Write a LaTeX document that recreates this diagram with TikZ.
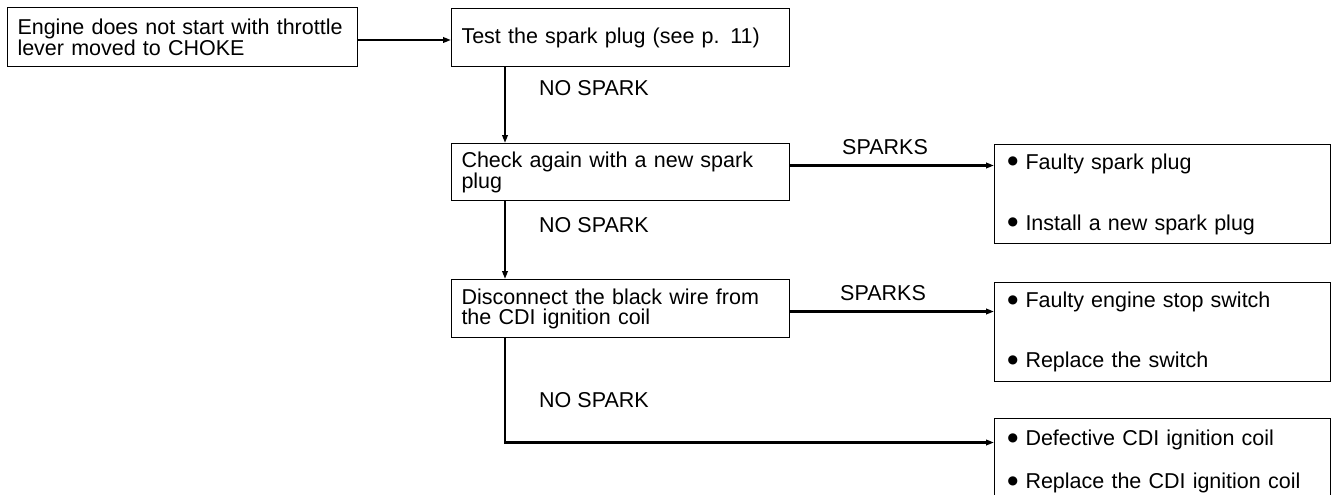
\documentclass[tikz,border=0pt]{standalone}
\usepackage{fontspec}
\setmainfont{Liberation Sans}
\newfontfamily\djv{DejaVu Sans}
\usetikzlibrary{arrows.meta}
\newcommand\fsz{\fontsize{21.5}{20}\selectfont}
\newcommand\bul{\makebox[18pt][l]{\raisebox{4.5pt}{\djv\fontsize{12}{20}\selectfont ●}}}
\tikzset{
  box/.style={draw, line width=1pt, anchor=north west, align=left,
    inner xsep=10pt, inner ysep=0pt, font=\fsz},
  rbox/.style={box, inner xsep=13pt},
  lbl/.style={anchor=west, inner sep=0pt, font=\fsz},
  conn/.style={line width=2.3pt, -{Triangle[length=8pt,width=5.5pt]}}
}
\begin{document}
\begin{tikzpicture}[x=1pt,y=-1pt]
\useasboundingbox (0,0) rectangle (1333,495);
\clip (0,0) rectangle (1333,495);
\node[box, text width=330pt, minimum height=59pt] (b1) at (7,7)
  {Engine does not start with throttle\\lever moved to CHOKE};
\node[box, text width=318pt, minimum height=58pt] (b2) at (451,8)
  {Test the spark plug (see p. 11)};
\node[box, text width=318pt, minimum height=57pt] (b3) at (451,143)
  {Check again with a new spark\\plug};
\node[box, text width=318pt, minimum height=58pt] (b4) at (451,279)
  {Disconnect the black wire from\\the CDI ignition coil};
\node[rbox, text width=310pt, minimum height=99pt] (r1) at (994,144)
  {\bul Faulty spark plug\\[40pt]\bul Install a new spark plug};
\node[rbox, text width=310pt, minimum height=99pt] (r2) at (994,282)
  {\bul Faulty engine stop switch\\[39pt]\bul Replace the switch};
\node[rbox, text width=310pt, minimum height=86pt] (r3) at (994,418)
  {\bul Defective CDI ignition coil\\[22pt]\bul Replace the CDI ignition coil};
\coordinate (v) at (505,0);
% labels
\node[lbl] (ns1) at (539,88) {NO SPARK};
\node[lbl] (ns2) at (539,225) {NO SPARK};
\node[lbl] (ns3) at (539,400) {NO SPARK};
\node[lbl] (sp1) at (842,147) {SPARKS};
\node[lbl] (sp2) at (840,293) {SPARKS};
% connectors
\draw[conn] ([yshift=-3pt]b1.east) -- ([yshift=-3pt]b1.east -| b2.west);
\draw[conn] (b2.south -| v) -- (b3.north -| v);
\draw[conn] (b3.south -| v) -- (b4.north -| v);
\draw[conn] ([yshift=6.5pt]b3.east) -- ([yshift=6.5pt]b3.east -| r1.west);
\draw[conn] ([yshift=-3pt]b4.east) -- ([yshift=-3pt]b4.east -| r2.west);
\draw[conn] (b4.south -| v) |- ([yshift=19pt]r3.west);
\end{tikzpicture}
\end{document}
